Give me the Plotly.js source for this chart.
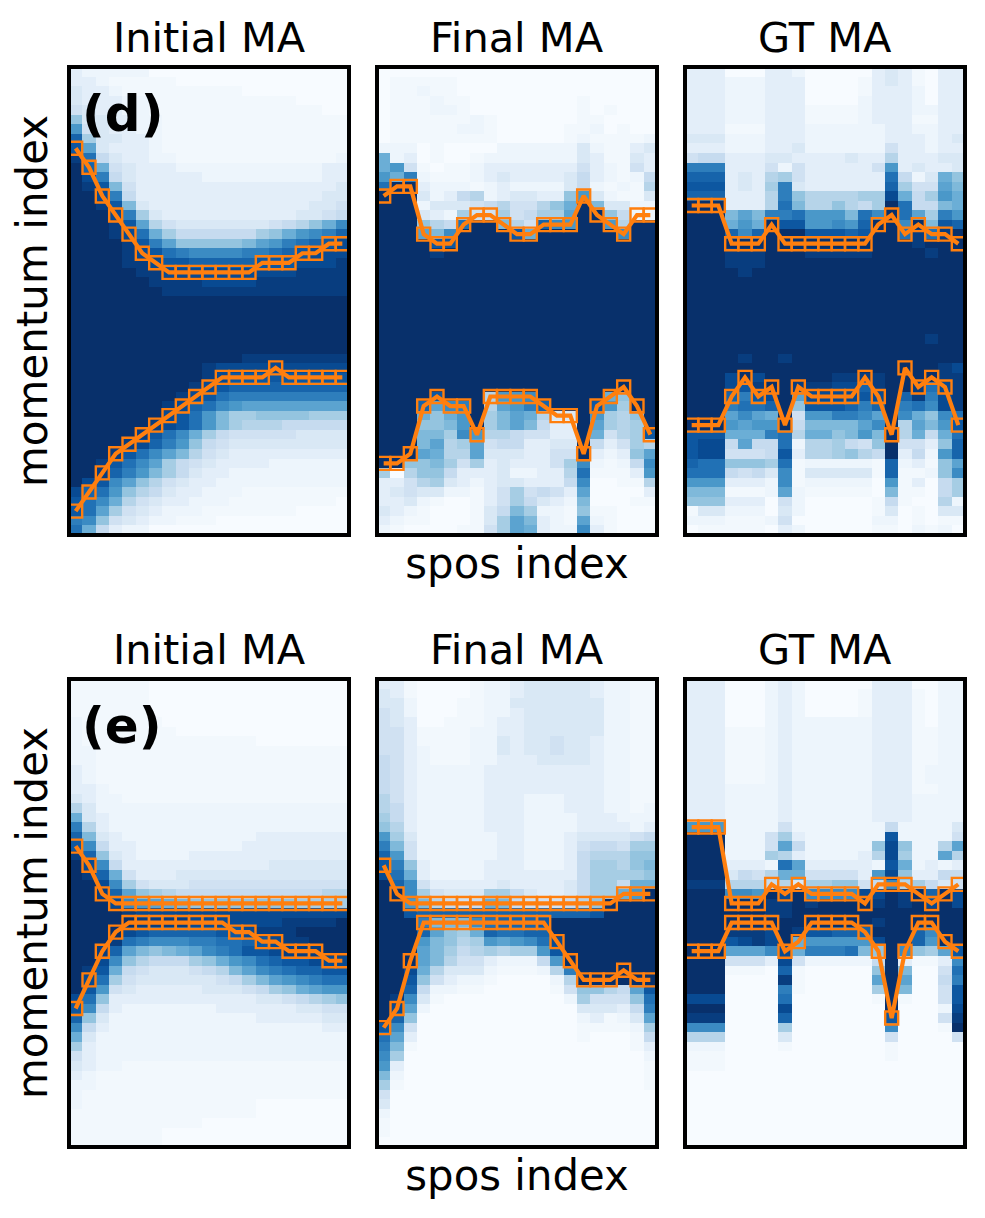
<!DOCTYPE html>
<html><head><meta charset="utf-8">
<script src="https://cdn.plot.ly/plotly-3.0.1.min.js"></script>
<style>html,body{margin:0;padding:0;background:#fff}</style></head>
<body><div id="chart" style="width:985px;height:1218px"></div>
<script>
// Cell levels: each character is one cell, 0..k = 0..20 (twentieths), "." = half a step above 0.
const K = "kkkkkkk kkkkkkk kkkkkkk", Z = "0000000 0000000 0000000";
const dInitialRows = [
"2111110 0000000 0000000","221.... .000000 0000000","3221... ......0 0000000","322211. ....... ...0000",
"432211. ....... .....00","8332211 ....... .......","c432211 ....... .......","g733221 ....... .......",
"hb32221 ....... .......","jf53221 1...... ......1","kga4322 2111111 1111122","kie5322 2221111 1111122",
"kjh9422 2222222 2222223","kkie522 2222222 2222233","kkjh932 2222222 2222334","kkkie73 2222222 2223345",
"kkkjhb6 4333333 34568ad","kkkjifa 7555555 78acdeg","kkkkjhe b888889 bcefghi","kkkkjih fedddde efghiii",
"kkkkjji hhggggg hhhiiij","kkkkkjj iiiiiii iiijjjj","kkkkkkj jjjiiii jjjjjjj","kkkkkkk jjjjjjj jjjjjjj",
K,K,K,K,K,K,
"kkkkkkk kkkkkkj jjjjjjj","kkkkkkk kkkjiii iiiiiii","kkkkkkk kkkjihh hhhhhhh","kkkkkkk kkjihgg ggggggg",
"kkkkkkk kjihfee eeeeeee","kkkkkkk jigfdcb bbbbbbb","kkkkkkk ihfc977 8888777","kkkkkkj ihfc976 6655555",
"kkkkkjh fda7544 4443333","kkkkjig ec85433 3333333","kkkjhfd b964322 2222222","kkjhfdb 7543222 2111111",
"kkjgec9 7532211 1111111","kihdb86 4322111 1111111","igfc865 322111. .......","hfda643 22111.. ......0",
"hfb7432 111.... ...0000","ed84321 1...000 0000000","fa52110 0000000 0000000"
];
const dFinalRows = [
Z,"0.....0 0000000 0000000","0..1..0 0000000 0000000","0...1.. 0000000 0.00000",
"0...11. 0000000 0.0.000","0...... 1.00000 0..0000","0.....1 1.00000 ..10.00","0...... ..00000 .1....1",
"1110.00 0011111 131..23","a120.00 .111111 132..32","ac4.0.. 1222222 2421.42","cae1... 1232222 3521.15",
"fkk2111 .121111 351.1.6","kkk3125 6123322 8c31..3","kkk1333 4564468 ak93311","kkk3217 4474577 bkk8511",
"kkk865f kk964gd ckkc6kk","kkkb9dk kkkhakk kkkkdkk","kkkkhhk kkkkkkk kkkkkkk","kkkkjkk kkkkkkk kkkkkkk",
K,K,K,K,K,K,K,K,K,K,K,K,K,K,
"kkkkhkk k6ccdkk kkka8kk","kkkgbde k6bcegk kkhc7kk","kkka8ac k79ba63 3kc768k","kkk889c k79b952 2kb767k",
"kkk997d c665442 2ka467h","kkk9b67 b455223 3k52476","kkkba66 b333224 4k2128b","kk88974 7232224 7d1.15d",
"7068852 2231122 6f...2c","2246732 1233222 5d00..6","2343311 .247454 2b00002","2231.00 .247532 19000..",
"321.000 .359711 .8..000","21..000 .37b921 .b1.000","1.0000. .47ba21 1d2.000"
];
const dTruthRows = [
"2220002 2100000 232.022","2221112 220000. 232.022","2221112 220000. 2221022","2221112 2200001 2221022",
"2221112 22....1 2221122","2221112 22....1 222..22","222...2 2211111 1221122","3331112 2211111 1222123",
"2221112 2311111 1422122","4552223 3222232 2622233","eee2224 1422222 4c23223","ggg2326 7422222 2f513a8",
"hhh2327 e322222 2g744b9","ggg2226 e866667 7ia57ca","kkk2226 f966865 7kf559a","kkk9b9e efccc9f dkfb7ec",
"kkkacak hhccdcg kkdk9hg","kkkgdgk kkhhhgh kkfjfjk","kkkkkkk kkkkkkk kkkjkkk","kkkjjjk kkjjjjj kkkkjkk",
"kkkjjjk kkkkkkk kkkkkkk","kkkkjkk kkkkkkk kkkkkkk",
K,K,K,K,K,K,"kkkkkkk kkkkkkk kkkkjkk",K,
"kkkkjkk jkkkkkk kkkkkkk","kkkkkkk kkkkkkk kkkkkji","kkkikik kkkkjjj jkkkkjj","kkkihjk kjjjiig jkkjfij",
"kkkgehi kbiiiih ikgjeij","kkkeffg k8hhhge gkefdij","kkkbdba k4cceed bkda8df","kkkcbcc k59999b dk6b9ch",
"hhhaaae f6aa89c 9k6a5af","hii5b55 f166754 8k4428g","hii4445 h266786 5k251cg","gff8887 f.11111 .g12.8b",
"fff5453 d.33333 .g..18d","ccc2221 d.11111 0c.2057","999...1 b1..... 09..057","8882220 4100000 .5.0061",
".331110 3100000 .30.033","111...1 4000000 110.0..","0.....0 2100000 ..01.10"
];
const eInitialRows = [
"......0 0000000 0000000","......0 0000000 0000000","......0 0000000 0000000","......0 0000000 0000000",
"1...... 0000000 0000000","1...... .000000 0000000","1...... ....... 0000000","11..... ....... .......",
"11..... ....... .......","21..... ....... .......","21..... ....... .......","221.... ....... .......",
"3211... ....... .......","6311111 1111111 1111111","a321111 1111111 1111111","e621111 1111111 1111111",
"g932111 1111111 2222222","hd52211 1111112 2222222","jg83211 1122222 2222222","kid5222 2222222 2333333",
"kjga422 2333333 3333333","kkid743 3344444 4444444","kkjgb87 6555555 5555566","kkkidcb a988888 8887777",
"kkkkjii iiiiiii iiiiiii","kkkkkjj jjiiiii iijjjjk","kkkkihg gggghhi jjjkkkk","kkkjfed ddeeffg hijjkkk",
"kkjgb98 9abdefh hijjjkk","kkid865 5578acd fghhiii","kjha543 334569b defgghh","kif7433 3333457 9bcdeff",
"khc4322 2223334 578abcc","if82222 2222222 3345678","hd52111 1111222 2223344","g831111 1111111 2222233",
"d521111 1111111 1111122","a311111 1111111 1111111","7211111 1111111 1111111","4211111 1111111 1111111",
"3211... ....... .......","21..... ....... .......","11..... ....... .......","1...... ....... .......",
"1...... ....... 0000000","....... ....... 0000000","....... ...0000 0000000","....... 0000000 0000000",
"....... 0000000 0000000"
];
const eFinalRows = [
"22.0000 .112333 33211..","32.0000 .112333 33211..","331000. .113333 33311..","431000. .112333 33311..",
"43200.. .122333 33311..","442.... 1122333 33311..","442.... 1132334 33211..","4421... 1132334 33211..",
"5421... 1122233 33211..","5421111 1222222 22211..","5421111 1222222 22211..","5421111 1222222 22211..",
"6421111 1222111 22211..","6521111 1222111 22211.1","7521111 1222111 1222111","8621111 1222111 1222212",
"c731111 1122111 2333345","e941111 1122111 2455477","gc41111 1122111 2566688","he82111 1222111 2577689",
"ifa2111 1222222 2577778","kgd4222 2232222 35775aa","kkd7433 3775322 3577ack","kkc9654 5a95444 568kkkk",
"kkhgggg ggggggg gghkkkk","kkke999 dfgggh k kkkkkkk","kkkgb87 agffggk kkkkkkk","kkkc986 7cbcdfi kkkkkkk",
"kkkb975 67677ch kkkkkkk","kkkb964 421115c kkkkkkk","kkia633 31...16 ekkkkkk","kkh8421 1.00001 6kkkkkk",
"kkg511. .00000. 48865bh","kjd3.00 0000000 174448f","kib1000 0000000 033325e","kg80000 0000000 012.13b",
"hd40000 0000000 0....17","fb20000 0000000 0.000.5","e9.0000 0000000 00000.2","d700000 0000000 0000001",
"c200000 0000000 000000.","9100000 0000000 000000.","7.00000 0000000 000000.","4000000 0000000 0000000",
"3000000 0000000 0000000","1000000 0000000 0000000",".000000 0000000 0000000",".000000 0000000 0000000",Z
];
const eTruthRows = [
"2220001 2100000 2220011","2220001 210000. 222.011","2220001 210000. 222.011","2220001 210000. 222.011",
"2220001 2111111 222.011","222...1 2111111 222..11","222...1 2111111 222..11","222...1 2111111 222..11",
"222...1 2111111 222..11","222...1 2111111 222.111","222...1 2111111 222.111","2221111 2111111 222..11",
"2221111 2111111 2221111","2221111 2111111 2221111","2221111 2111111 2221111","ccc1111 4111111 1511113",
"kkk1114 7211111 1h11114","kkk1114 b511111 8i8116b","kkk1117 6211112 6i711b6","kkk2221 fb22222 1ha1212",
"kkk3546 aa44442 ci82255","jjj6665 6377884 5d67534","kkkddck ikddddi ikjkgki","kkkkkkj jkjkkkk jkjkiki",
"kkkkkkj jkkkkkk kkkkkkk","kkkkkkk kkkkkkk jkkkkkk","kkkjjji kjhhggg kkkgdkk","kkkhiji kaccccc ikkgckk",
"kkkbbbd iaeeef9 8kd87bh","kkk4442 i411111 5k2..2d","kkk...0 g.00000 8k9004f","kkk0000 j.00000 bkb005e",
"kkk0000 e.00000 7k9004h","iii0000 f000000 .k.004h","kkk0000 i000000 0k0001i","jjj0000 g000000 0h0004j",
"ddd0000 7000000 0d000.k","6660000 3000000 0400004","1110000 .000000 0.00000","...0000 0000000 0.00000",
"...0000 0000000 0000000",Z,Z,Z,Z,Z,Z,Z,Z
];

// Momentum row of each marker, one per spos column.
const dInitialUpper = [8,10,13,15,17,19,20,21,21,21,21,21,21,21,20,20,20,19,19,18,18];
const dInitialLower = [46,44,42,40,39,38,37,36,35,34,33,32,32,32,32,31,32,32,32,32,32];
const dFinalUpper = [13,12,12,17,18,18,16,15,15,16,17,17,16,16,16,13,15,16,17,15,15];
const dFinalLower = [41,41,40,35,34,35,35,38,34,34,34,34,35,36,36,40,35,34,33,35,38];
const dTruthUpper = [14,14,14,18,18,18,16,18,18,18,18,18,18,18,16,15,17,16,17,17,18];
const dTruthLower = [37,37,37,34,32,34,33,37,33,34,34,34,34,32,34,38,31,33,32,33,37];
const eInitialUpper = [17,19,22,23,23,23,23,23,23,23,23,23,23,23,23,23,23,23,23,23,23];
const eInitialLower = [34,31,28,26,25,25,25,25,25,25,25,25,26,26,27,27,28,28,28,29,29];
const eFinalUpper = [19,22,23,23,23,23,23,23,23,23,23,23,23,23,23,23,23,23,22,22,22];
const eFinalLower = [36,34,29,25,25,25,25,25,25,25,25,25,25,27,29,31,31,31,30,31,31];
const eTruthUpper = [15,15,15,23,23,23,21,22,21,22,22,22,22,23,21,21,21,22,23,22,21];
const eTruthLower = [28,28,28,25,25,25,25,28,27,25,25,25,25,26,28,35,28,25,25,27,28];

const panelTitles = ["Initial MA","Final MA","GT MA"];
const rowLabels = ["(d)","(e)"];
const xLabel = "spos index", yLabel = "momentum index";

const NCOL = 21, NROW = 49;
const parseGrid = rows => rows.map(r => Array.from(r.replace(/ /g,"")).map(c => c === "." ? 0.025 : parseInt(c,36)/20));
const blues = [[0,"#f7fbff"],[0.125,"#deebf7"],[0.25,"#c6dbef"],[0.375,"#9ecae1"],[0.5,"#6baed6"],[0.625,"#4292c6"],[0.75,"#2171b5"],[0.875,"#08519c"],[1,"#08306b"]];
const W = 985, H = 1218;
const lefts = [69,377,685], tops = [67,679], AW = 280, AH = 468, SPINE = 4;
const ORANGE = "#ff7f0e";
const cols = Array.from({length:NCOL},(_,i)=>i);
const rowsIdx = Array.from({length:NROW},(_,i)=>i);
const panels = [
 [dInitialRows,dInitialUpper,dInitialLower],[dFinalRows,dFinalUpper,dFinalLower],[dTruthRows,dTruthUpper,dTruthLower],
 [eInitialRows,eInitialUpper,eInitialLower],[eFinalRows,eFinalUpper,eFinalLower],[eTruthRows,eTruthUpper,eTruthLower]
];
const traces = [], layout = {
  width:W,height:H,margin:{l:0,r:0,t:0,b:0},paper_bgcolor:"#fff",plot_bgcolor:"#fff",showlegend:false,
  font:{family:"DejaVu Sans",color:"#000"},annotations:[]
};
const note = (text,x,y,size,extra) => layout.annotations.push(Object.assign({
  text,x:x/W,y:1-y/H,xref:"paper",yref:"paper",showarrow:false,xanchor:"center",yanchor:"middle",
  font:{family:"DejaVu Sans",size,color:"#000"}},extra||{}));
const inX = (SPINE/2)/(AW/NCOL), inY = (SPINE/2)/(AH/NROW);
panels.forEach((p,i)=>{
  const r = Math.floor(i/3), c = i%3, n = i+1, sfx = n===1?"":n;
  const xa = "x"+sfx, ya = "y"+sfx;
  const L = lefts[c], T = tops[r];
  traces.push({type:"heatmap",z:parseGrid(p[0]),x:cols,y:rowsIdx.slice(0,p[0].length),xaxis:xa,yaxis:ya,colorscale:blues,zmin:0,zmax:1,showscale:false,hoverinfo:"skip"});
  [p[1],p[2]].forEach(s=>traces.push({type:"scatter",mode:"lines+markers",x:cols,y:s,xaxis:xa,yaxis:ya,
    line:{color:ORANGE,width:4.2},marker:{symbol:"square-open",size:13,color:ORANGE,line:{color:ORANGE,width:2.4}},hoverinfo:"skip"}));
  const base = {showgrid:false,zeroline:false,showticklabels:false,ticks:"",showline:true,linecolor:"#000",linewidth:SPINE,mirror:true};
  const xAxis = Object.assign({},base,{domain:[(L+SPINE/2)/W,(L+AW-SPINE/2)/W],range:[-0.5+inX,NCOL-0.5-inX],anchor:ya});
  const yAxis = Object.assign({},base,{domain:[1-(T+AH-SPINE/2)/H,1-(T+SPINE/2)/H],range:[NROW-0.5-inY,-0.5+inY],anchor:xa});
  if(c===1) xAxis.title = {text:xLabel,font:{size:41.8,family:"DejaVu Sans",color:"#000"},standoff:14};
  if(c===0) yAxis.title = {text:yLabel,font:{size:42,family:"DejaVu Sans",color:"#000"},standoff:7};
  layout["xaxis"+sfx] = xAxis; layout["yaxis"+sfx] = yAxis;
  note(panelTitles[c],L+AW/2,T-30,41.5);
});
rowLabels.forEach((t,r)=>note(`<b>${t}</b>`,80,tops[r]+47,50,{xanchor:"left"}));
Plotly.newPlot("chart",traces,layout,{displayModeBar:false,responsive:false});
</script></body></html>
